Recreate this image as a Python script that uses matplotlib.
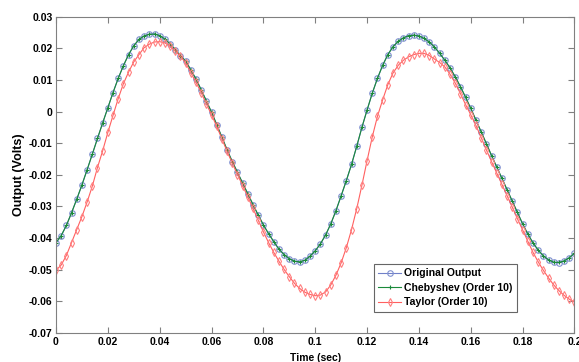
import matplotlib
matplotlib.use("Agg")
import matplotlib.pyplot as plt
from matplotlib.ticker import FuncFormatter

plt.rcParams['font.family'] = ['Liberation Sans', 'DejaVu Sans']

time_sec = [round(i * 0.002, 3) for i in range(101)]

original_output = [
    -0.0415, -0.0393, -0.0360, -0.0320, -0.0277, -0.0232, -0.0184, -0.0135, -0.0085, -0.0036,
    0.0012, 0.0060, 0.0105, 0.0145, 0.0180, 0.0208, 0.0228, 0.0239, 0.0245, 0.0246,
    0.0240, 0.0229, 0.0214, 0.0196, 0.0176, 0.0160, 0.0132, 0.0103, 0.0069, 0.0034,
    -0.0002, -0.0041, -0.0081, -0.0121, -0.0158, -0.0192, -0.0226, -0.0260, -0.0294, -0.0327,
    -0.0358, -0.0386, -0.0411, -0.0435, -0.0452, -0.0465, -0.0473, -0.0476, -0.0470, -0.0457,
    -0.0440, -0.0418, -0.0390, -0.0355, -0.0313, -0.0266, -0.0218, -0.0167, -0.0110, -0.0050,
    0.0005, 0.0058, 0.0105, 0.0146, 0.0180, 0.0205, 0.0222, 0.0233, 0.0240, 0.0242,
    0.0239, 0.0231, 0.0220, 0.0204, 0.0184, 0.0162, 0.0138, 0.0110, 0.0079, 0.0045,
    0.0010, -0.0027, -0.0064, -0.0101, -0.0139, -0.0175, -0.0211, -0.0247, -0.0283, -0.0319,
    -0.0355, -0.0387, -0.0415, -0.0438, -0.0456, -0.0469, -0.0477, -0.0478, -0.0472, -0.0462,
    -0.0448,
]

chebyshev_order10 = [
    -0.0414, -0.0392, -0.0360, -0.0320, -0.0277, -0.0232, -0.0184, -0.0135, -0.0085, -0.0036,
    0.0012, 0.0060, 0.0105, 0.0145, 0.0180, 0.0208, 0.0228, 0.0239, 0.0244, 0.0245,
    0.0240, 0.0229, 0.0214, 0.0196, 0.0176, 0.0160, 0.0132, 0.0103, 0.0069, 0.0034,
    -0.0002, -0.0041, -0.0081, -0.0121, -0.0158, -0.0192, -0.0226, -0.0260, -0.0294, -0.0327,
    -0.0358, -0.0386, -0.0411, -0.0435, -0.0452, -0.0465, -0.0473, -0.0475, -0.0470, -0.0457,
    -0.0440, -0.0418, -0.0390, -0.0355, -0.0313, -0.0266, -0.0218, -0.0167, -0.0110, -0.0050,
    0.0005, 0.0058, 0.0105, 0.0146, 0.0180, 0.0205, 0.0222, 0.0233, 0.0240, 0.0241,
    0.0239, 0.0231, 0.0220, 0.0204, 0.0184, 0.0162, 0.0138, 0.0110, 0.0079, 0.0045,
    0.0010, -0.0027, -0.0064, -0.0101, -0.0139, -0.0175, -0.0211, -0.0247, -0.0283, -0.0319,
    -0.0355, -0.0387, -0.0415, -0.0438, -0.0456, -0.0469, -0.0476, -0.0477, -0.0472, -0.0462,
    -0.0448,
]

taylor_order10 = [
    -0.0502, -0.0485, -0.0455, -0.0414, -0.0373, -0.0332, -0.0286, -0.0236, -0.0177, -0.0124,
    -0.0066, -0.0012, 0.0041, 0.0088, 0.0125, 0.0157, 0.0180, 0.0202, 0.0213, 0.0220,
    0.0221, 0.0217, 0.0207, 0.0192, 0.0175, 0.0154, 0.0123, 0.0093, 0.0060, 0.0024,
    -0.0010, -0.0047, -0.0086, -0.0126, -0.0163, -0.0199, -0.0234, -0.0270, -0.0306, -0.0343,
    -0.0380, -0.0414, -0.0445, -0.0473, -0.0499, -0.0522, -0.0543, -0.0559, -0.0571, -0.0578,
    -0.0582, -0.0580, -0.0570, -0.0548, -0.0517, -0.0478, -0.0430, -0.0373, -0.0307, -0.0233,
    -0.0155, -0.0080, -0.0015, 0.0037, 0.0085, 0.0122, 0.0146, 0.0162, 0.0173, 0.0180,
    0.0184, 0.0184, 0.0177, 0.0166, 0.0155, 0.0141, 0.0118, 0.0090, 0.0057, 0.0022,
    -0.0010, -0.0044, -0.0082, -0.0121, -0.0158, -0.0194, -0.0230, -0.0266, -0.0302, -0.0339,
    -0.0374, -0.0410, -0.0445, -0.0475, -0.0502, -0.0526, -0.0548, -0.0566, -0.0581, -0.0593,
    -0.0602,
]

x_ticks = [0, 0.02, 0.04, 0.06, 0.08, 0.1, 0.12, 0.14, 0.16, 0.18, 0.2]
y_ticks = [-0.07, -0.06, -0.05, -0.04, -0.03, -0.02, -0.01, 0, 0.01, 0.02, 0.03]

fig = plt.figure(figsize=(5.79, 3.62), dpi=100)
ax = fig.add_axes([0.0967, 0.080, 0.8955, 0.874])

ax.plot(time_sec, original_output, color='#7080c8', lw=0.8, marker='o', ms=4,
        mfc='none', mec='#8090d0', mew=0.8, label='Original Output')
ax.plot(time_sec, chebyshev_order10, color='#1a8a3a', lw=0.8, marker='+', ms=3,
        mew=0.8, label='Chebyshev (Order 10)')
ax.plot(time_sec, taylor_order10, color='#ff6060', lw=0.8, marker='d', ms=4,
        mfc='none', mec='#ff8080', mew=0.8, label='Taylor (Order 10)')

ax.set_xlim(0, 0.2)
ax.set_ylim(-0.07, 0.03)
ax.set_xticks(x_ticks)
ax.set_yticks(y_ticks)
fmt = FuncFormatter(lambda v, p: '%g' % round(v, 4))
ax.xaxis.set_major_formatter(fmt)
ax.yaxis.set_major_formatter(fmt)
ax.tick_params(direction='in', top=True, right=True, length=4, width=0.8,
               color='#808080', labelsize=7.5, pad=2.5)
for lab in ax.get_xticklabels() + ax.get_yticklabels():
    lab.set_fontweight('bold')
for s in ax.spines.values():
    s.set_color('#808080')
    s.set_linewidth(0.8)

ax.set_xlabel('Time (sec)', fontsize=7.5, fontweight='bold', labelpad=5)
ax.set_ylabel('Output (Volts)', fontsize=9, fontweight='bold', labelpad=3)

leg = ax.legend(loc='lower right', bbox_to_anchor=(0.889, 0.068),
                prop={'weight': 'bold', 'size': 7.6}, frameon=True, fancybox=False,
                handlelength=2.2, handletextpad=0.3, borderpad=0.4, labelspacing=0.42,
                borderaxespad=0)
leg.get_frame().set_edgecolor('#404040')
leg.get_frame().set_linewidth(0.8)

fig.savefig('out.png', dpi=100)
